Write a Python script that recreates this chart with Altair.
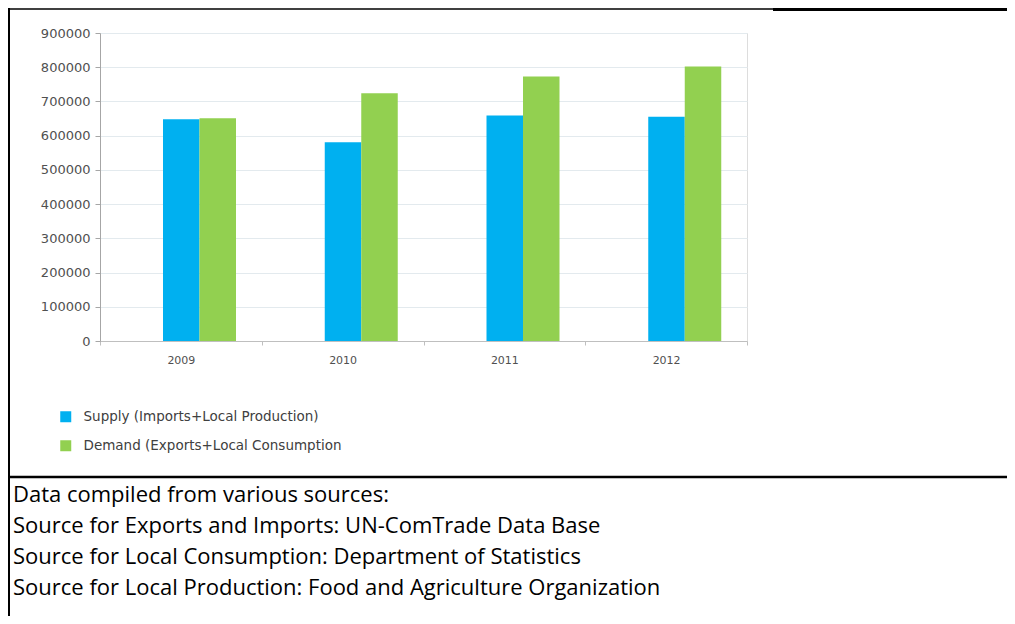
import altair as alt
import pandas as pd

years = ["2009", "2010", "2011", "2012"]
series = ["Supply (Imports+Local Production)", "Demand (Exports+Local Consumption"]
supply = [648000, 581000, 659000, 655000]
demand = [651000, 724000, 773000, 802000]
colors = ["#00B0F0", "#92D050"]
y_ticks = [0, 100000, 200000, 300000, 400000, 500000, 600000, 700000, 800000, 900000]
notes = [
    "Data compiled from various sources:",
    "Source for Exports and Imports: UN-ComTrade Data Base",
    "Source for Local Consumption: Department of Statistics",
    "Source for Local Production: Food and Agriculture Organization",
]

rows = []
for i, y in enumerate(years):
    rows.append({"Year": y, "Series": series[0], "Value": supply[i]})
    rows.append({"Year": y, "Series": series[1], "Value": demand[i]})
df = pd.DataFrame(rows)

AX_FONT = "DejaVu Sans"

bars = alt.Chart(df).mark_bar().encode(
    x=alt.X(
        "Year:N",
        sort=years,
        scale=alt.Scale(paddingInner=0, paddingOuter=0),
        axis=alt.Axis(
            title=None, labelAngle=0, tickBand="extent", grid=False,
            domainColor="#bfbfbf", tickColor="#bfbfbf", tickSize=4,
            labelPadding=9, labelFont=AX_FONT, labelFontSize=11, labelColor="#505050",
        ),
    ),
    xOffset=alt.XOffset(
        "Series:N",
        sort=series,
        scale=alt.Scale(domain=series, range=[63, 136], paddingInner=0, paddingOuter=0),
    ),
    y=alt.Y(
        "Value:Q",
        scale=alt.Scale(domain=[0, 900000], nice=False),
        axis=alt.Axis(
            title=None, values=y_ticks, format="d",
            domainColor="#a6a6a6", tickColor="#a6a6a6", tickSize=5,
            labelPadding=5, labelFont=AX_FONT, labelFontSize=13, labelColor="#505050",
            gridColor="#e3eaee", gridWidth=1,
        ),
    ),
    color=alt.Color(
        "Series:N",
        scale=alt.Scale(domain=series, range=colors),
        legend=alt.Legend(
            title=None, orient="none", legendX=-41, legendY=377,
            symbolType="square", symbolSize=121, symbolStrokeWidth=0,
            labelFont=AX_FONT, labelFontSize=13.5, labelColor="#404040",
            labelOffset=11, rowPadding=14, padding=0, labelLimit=0,
        ),
    ),
)

one = pd.DataFrame({"k": [0]})

left_border = alt.Chart(one).mark_rule(color="black", strokeWidth=2).encode(
    x=alt.value(-91), y=alt.value(-25), y2=alt.value(600)
)
top_thin = alt.Chart(one).mark_rule(color="black", strokeWidth=1.5).encode(
    x=alt.value(-92), x2=alt.value(673), y=alt.value(-24)
)
top_thick = alt.Chart(one).mark_rule(color="black", strokeWidth=3).encode(
    x=alt.value(673), x2=alt.value(920), y=alt.value(-23.5)
)
mid_line = alt.Chart(one).mark_rule(color="black", strokeWidth=2.5).encode(
    x=alt.value(-92), x2=alt.value(920), y=alt.value(444)
)

notes_text = alt.Chart(pd.DataFrame({"t": ["\n".join(notes)]})).mark_text(
    align="left", baseline="alphabetic", font="Open Sans", fontSize=22,
    color="black", lineBreak="\n", lineHeight=31,
).encode(text="t:N", x=alt.value(-87), y=alt.value(469))

chart = alt.layer(
    bars, left_border, top_thin, top_thick, mid_line, notes_text
).properties(
    width=647, height=308,
    autosize=alt.AutoSizeParams(type="none"),
    padding={"left": 92, "top": 25, "right": 260, "bottom": 275},
).configure_view(stroke=None).configure(background="white")

chart.save("out.html", embed_options={"renderer": "svg", "actions": False})
